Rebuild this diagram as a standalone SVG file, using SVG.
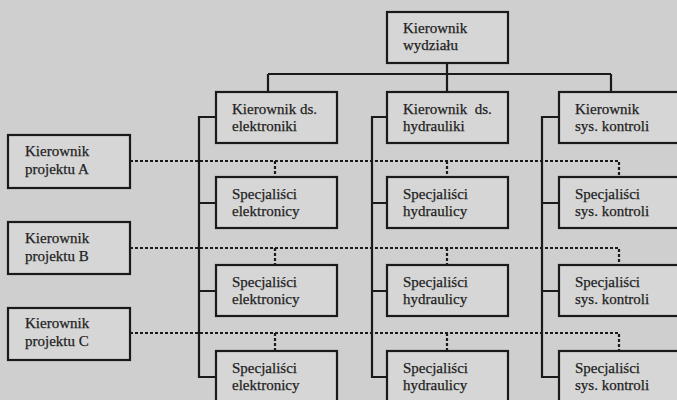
<svg xmlns="http://www.w3.org/2000/svg" width="677" height="400" viewBox="0 0 677 400">
<style>
.bg{fill:#cfcfcf}
.box{fill:#d6d6d6;stroke:#1a1a1a;stroke-width:2.2}
.ln{fill:none;stroke:#1a1a1a;stroke-width:2.2}
.dt{fill:none;stroke:#1a1a1a;stroke-width:2.2;stroke-dasharray:3 2}
text{font-family:"Liberation Serif","Times New Roman",serif;font-size:15px;fill:#1e1e1e;stroke:#1e1e1e;stroke-width:0.25}
</style>
<rect class="bg" x="0" y="0" width="677" height="400"/>
<g id="connectors">
<path class="ln" d="M447,63 V74 M268,74 H611 M268,74 V92 M447,74 V92 M611,74 V92"/>
<path class="ln" d="M216,117 H199 V377 H216 M199,203 H216 M199,291 H216"/>
<path class="ln" d="M387,117 H372 V377 H387 M372,203 H387 M372,291 H387"/>
<path class="ln" d="M559,117 H542 V377 H559 M542,203 H559 M542,291 H559"/>
<path class="dt" d="M130,161 H619 V177 M275,161 V177 M447,161 V177"/>
<path class="dt" d="M130,248 H619 V265 M275,248 V265 M447,248 V265"/>
<path class="dt" d="M130,333 H619 V351 M275,333 V351 M447,333 V351"/>
</g>
<g id="kierownik-wydzialu"><rect class="box" x="387" y="12" width="121" height="51"/><text x="403" y="33">Kierownik</text><text x="403" y="50">wydziału</text></g>
<g id="kier-elektroniki"><rect class="box" x="216" y="92" width="121" height="51"/><text x="232" y="114">Kierownik ds.</text><text x="232" y="131">elektroniki</text></g>
<g id="kier-hydrauliki"><rect class="box" x="387" y="92" width="121" height="51"/><text x="403" y="114" xml:space="preserve">Kierownik  ds.</text><text x="403" y="131">hydrauliki</text></g>
<g id="kier-kontroli"><rect class="box" x="559" y="92" width="130" height="51"/><text x="575" y="114">Kierownik</text><text x="575" y="131">sys. kontroli</text></g>
<g id="projekt-a"><rect class="box" x="8" y="135" width="122" height="53"/><text x="25" y="156">Kierownik</text><text x="25" y="174">projektu A</text></g>
<g id="projekt-b"><rect class="box" x="8" y="222" width="122" height="52"/><text x="25" y="243">Kierownik</text><text x="25" y="261">projektu B</text></g>
<g id="projekt-c"><rect class="box" x="8" y="308" width="122" height="52"/><text x="25" y="328">Kierownik</text><text x="25" y="346">projektu C</text></g>
<g id="spec-el-1"><rect class="box" x="216" y="177" width="121" height="51"/><text x="232" y="199">Specjaliści</text><text x="232" y="216">elektronicy</text></g>
<g id="spec-hy-1"><rect class="box" x="387" y="177" width="121" height="51"/><text x="403" y="199">Specjaliści</text><text x="403" y="216">hydraulicy</text></g>
<g id="spec-sk-1"><rect class="box" x="559" y="177" width="130" height="51"/><text x="575" y="199">Specjaliści</text><text x="575" y="216">sys. kontroli</text></g>
<g id="spec-el-2"><rect class="box" x="216" y="265" width="121" height="51"/><text x="232" y="287">Specjaliści</text><text x="232" y="304">elektronicy</text></g>
<g id="spec-hy-2"><rect class="box" x="387" y="265" width="121" height="51"/><text x="403" y="287">Specjaliści</text><text x="403" y="304">hydraulicy</text></g>
<g id="spec-sk-2"><rect class="box" x="559" y="265" width="130" height="51"/><text x="575" y="287">Specjaliści</text><text x="575" y="304">sys. kontroli</text></g>
<g id="spec-el-3"><rect class="box" x="216" y="351" width="121" height="60"/><text x="232" y="373">Specjaliści</text><text x="232" y="390">elektronicy</text></g>
<g id="spec-hy-3"><rect class="box" x="387" y="351" width="121" height="60"/><text x="403" y="373">Specjaliści</text><text x="403" y="390">hydraulicy</text></g>
<g id="spec-sk-3"><rect class="box" x="559" y="351" width="130" height="60"/><text x="575" y="373">Specjaliści</text><text x="575" y="390">sys. kontroli</text></g>
</svg>
